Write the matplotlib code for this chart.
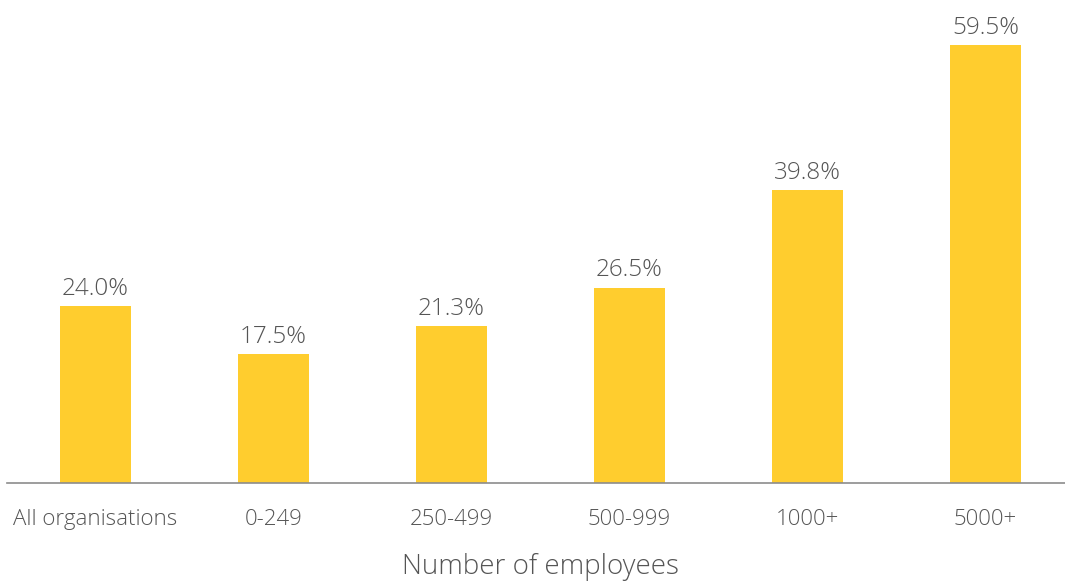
import matplotlib
matplotlib.use("Agg")
import matplotlib.pyplot as plt

categories = ["All organisations", "0-249", "250-499", "500-999", "1000+", "5000+"]
values = [24.0, 17.5, 21.3, 26.5, 39.8, 59.5]
value_labels = ["24.0%", "17.5%", "21.3%", "26.5%", "39.8%", "59.5%"]

W, H = 1065, 582
fig = plt.figure(figsize=(W / 100, H / 100), dpi=100)
plt.rcParams["font.family"] = ["Open Sans", "DejaVu Sans"]

slot = 178.0
left_px = 95.5 - slot / 2
ax = fig.add_axes([left_px / W, (H - 483) / H, (W - left_px) / W, 483 / H])

bar_color = "#FFCD2E"
text_color = "#555555"
x = list(range(len(categories)))
ax.bar(x, values, width=0.4, color=bar_color)

ax.set_xlim(-0.5, -0.5 + (W - left_px) / slot)
ax.set_ylim(0, 483 / 7.36)

for xi, v, lab in zip(x, values, value_labels):
    ax.annotate(lab, (xi, v), xytext=(0, 4), textcoords="offset points",
                ha="center", va="bottom", fontsize=17.5, color=text_color,
                fontweight="light")

for s in ["top", "right", "left"]:
    ax.spines[s].set_visible(False)
ax.spines["bottom"].set_color("#8c8c8c")
ax.spines["bottom"].set_linewidth(1.2)
ax.set_yticks([])
ax.set_xticks(x)
ax.set_xticklabels(categories, fontsize=16, color=text_color, fontweight="light")
ax.tick_params(axis="x", length=0, pad=19)
ax.set_xlabel("Number of employees", fontsize=20, color=text_color, fontweight="light")
ax.xaxis.set_label_coords((540.5 - left_px) / (W - left_px), -70 / 483)

fig.savefig("out.png", dpi=100)
